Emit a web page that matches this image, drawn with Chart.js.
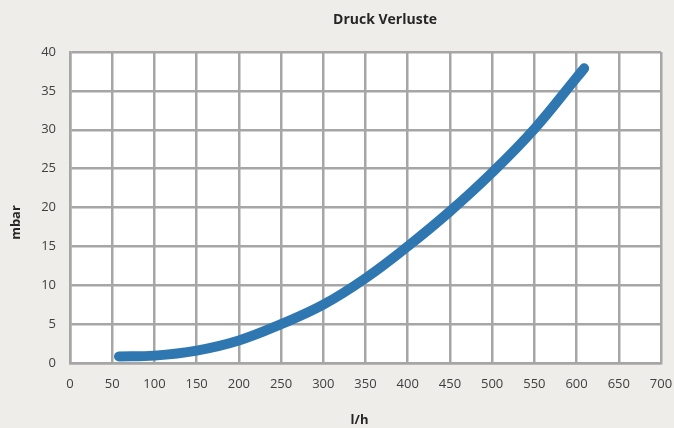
<!DOCTYPE html>
<html>
<head>
<meta charset="utf-8">
<title>Druck Verluste</title>
<script src="https://cdn.jsdelivr.net/npm/chart.js@4"></script>
<style>
  html, body { margin: 0; padding: 0; background: #eeede9; }
  #wrap { width: 674px; height: 428px; }
</style>
</head>
<body>
<div id="wrap"><canvas id="chartDruck" width="674" height="428"></canvas></div>
<script>
// Werte
const titel = 'Druck Verluste';
const achseX = 'l/h';
const achseY = 'mbar';
const durchfluss = [58, 100, 150, 200, 250, 300, 350, 400, 450, 500, 550, 600, 609];
const verlust = [0.85, 0.95, 1.6, 2.9, 5.0, 7.5, 10.9, 15.0, 19.5, 24.5, 30.1, 36.7, 37.9];
const xTicks = [0, 50, 100, 150, 200, 250, 300, 350, 400, 450, 500, 550, 600, 650, 700];
const yTicks = [0, 5, 10, 15, 20, 25, 30, 35, 40];

const FONT = '"Open Sans", "DejaVu Sans", sans-serif';
const GRID = '#a6a6a6';

// Plotfläche weiss + Beschriftungen wie im Excel-Original
const excelLook = {
  id: 'excelLook',
  beforeDraw(chart) {
    const { ctx, chartArea: a } = chart;
    ctx.save();
    ctx.fillStyle = '#ffffff';
    ctx.fillRect(a.left, a.top, a.right - a.left, a.bottom - a.top);
    ctx.restore();
  },
  afterDraw(chart) {
    const { ctx, chartArea: a } = chart;
    ctx.save();
    ctx.fillStyle = '#262626';
    ctx.textAlign = 'center';
    ctx.textBaseline = 'middle';
    ctx.font = 'bold 14px ' + FONT;
    ctx.fillText(titel, 385, 20);
    ctx.font = 'bold 13px ' + FONT;
    ctx.fillText(achseX, a.left + (a.right - a.left) / 2 - 6, 420);
    ctx.translate(16, a.top + (a.bottom - a.top) / 2 + 15);
    ctx.rotate(-Math.PI / 2);
    ctx.fillText(achseY, 0, 0);
    ctx.restore();
  }
};

new Chart(document.getElementById('chartDruck'), {
  type: 'line',
  data: {
    datasets: [{
      label: titel,
      data: durchfluss.map((x, i) => ({ x, y: verlust[i] })),
      borderColor: '#2f77b1',
      borderWidth: 10,
      borderCapStyle: 'round',
      borderJoinStyle: 'round',
      tension: 0.4,
      pointRadius: 0,
      fill: false,
      clip: false
    }]
  },
  options: {
    responsive: false,
    animation: false,
    layout: { padding: { top: 52, right: 13, bottom: 0, left: 0 } },
    plugins: { legend: { display: false }, tooltip: { enabled: false }, title: { display: false } },
    scales: {
      x: {
        type: 'linear',
        min: xTicks[0], max: xTicks[xTicks.length - 1],
        afterBuildTicks: s => { s.ticks = xTicks.map(v => ({ value: v })); },
        afterFit: s => { s.height = 65; s.paddingLeft = 0; s.paddingRight = 0; },
        grid: { color: GRID, lineWidth: 2.5, drawTicks: false },
        border: { color: GRID, width: 2.5 },
        ticks: { padding: 13, color: '#404040', font: { family: FONT, size: 13 }, maxRotation: 0 }
      },
      y: {
        min: yTicks[0], max: yTicks[yTicks.length - 1],
        afterBuildTicks: s => { s.ticks = yTicks.map(v => ({ value: v })); },
        afterFit: s => { s.width = 70; s.paddingTop = 0; s.paddingBottom = 0; },
        grid: { color: GRID, lineWidth: 2.5, drawTicks: false },
        border: { color: GRID, width: 2.5 },
        ticks: { padding: 14, color: '#404040', font: { family: FONT, size: 13 } }
      }
    }
  },
  plugins: [excelLook]
});
</script>
</body>
</html>
